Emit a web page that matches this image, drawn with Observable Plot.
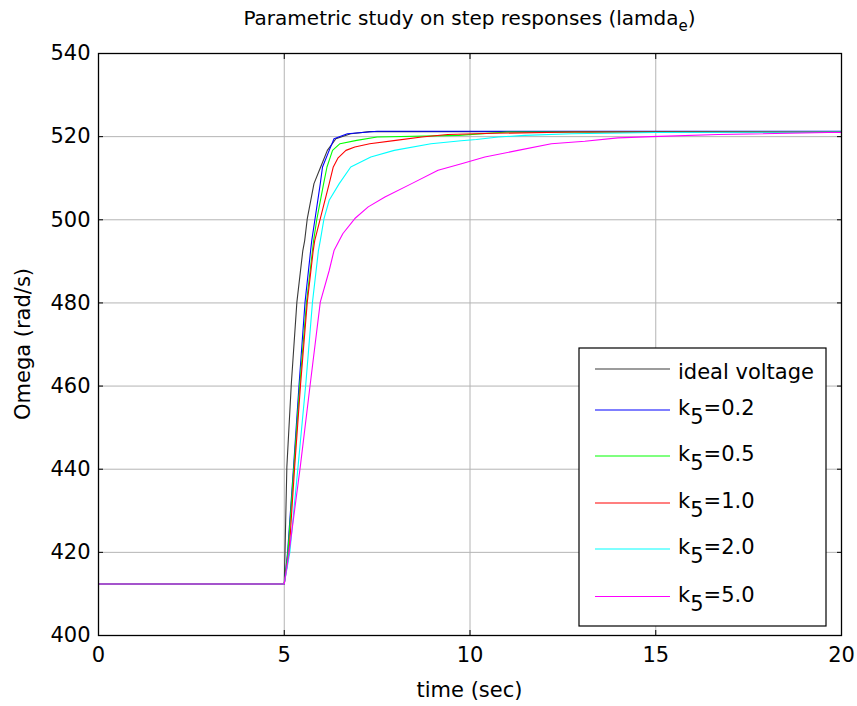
<!DOCTYPE html>
<html>
<head>
<meta charset="utf-8">
<script src="https://cdn.jsdelivr.net/npm/d3@7"></script>
<script src="https://cdn.jsdelivr.net/npm/@observablehq/plot@0.6"></script>
<style>
  html, body { margin: 0; padding: 0; background: #fff; }
  #chart { width: 857px; height: 706px; }
</style>
</head>
<body>
<div id="chart"></div>
<script>
// ---- data ----
const seriesNames = ["ideal voltage", "k5=0.2", "k5=0.5", "k5=1.0", "k5=2.0", "k5=5.0"];
const seriesColors = ["#3a3a3a", "#0000ff", "#00ff00", "#ff0000", "#00ffff", "#ff00ff"];

const tIdeal = [0, 5.0, 5.02, 5.07, 5.19, 5.34, 5.50, 5.55, 5.62, 5.80, 5.98, 6.16, 6.39, 6.79, 7.3, 20];
const yIdeal = [412.4, 412.4, 420.0, 440.5, 460.5, 480.2, 492.6, 495.0, 500.3, 508.7, 512.7, 516.7, 519.5, 520.7, 521.2, 521.2];

const tK02 = [0, 5.0, 5.09, 5.25, 5.40, 5.56, 5.71, 5.74, 5.83, 5.97, 6.03, 6.21, 6.34, 6.7, 7.5, 20];
const yK02 = [412.4, 412.4, 420.0, 440.5, 460.5, 480.2, 492.6, 495.0, 500.3, 508.7, 512.7, 516.7, 519.5, 520.7, 521.3, 521.3];

const tK05 = [0, 5.0, 5.10, 5.26, 5.42, 5.60, 5.76, 5.79, 5.88, 6.06, 6.15, 6.30, 6.5, 6.95, 7.5, 9.7, 11.0, 20];
const yK05 = [412.4, 412.4, 420.0, 440.5, 460.5, 480.2, 492.6, 495.0, 500.3, 508.7, 512.7, 516.7, 518.3, 519.1, 519.9, 520.3, 521.1, 521.1];

const tK10 = [0, 5.0, 5.13, 5.28, 5.44, 5.62, 5.78, 5.82, 5.97, 6.21, 6.32, 6.45, 6.66, 6.9, 7.3, 8.0, 8.7, 9.4, 10.66, 12.8, 20];
const yK10 = [412.4, 412.4, 420.0, 440.5, 460.5, 480.2, 492.6, 495.0, 500.3, 508.7, 512.7, 514.9, 516.7, 517.5, 518.3, 519.1, 519.9, 520.5, 520.8, 521.1, 521.1];

const tK20 = [0, 5.0, 5.15, 5.37, 5.58, 5.76, 5.92, 5.97, 6.07, 6.21, 6.48, 6.79, 7.33, 7.96, 8.95, 9.76, 10.17, 10.76, 11.47, 12.73, 14.97, 20];
const yK20 = [412.4, 412.4, 420.0, 440.5, 460.5, 480.2, 492.6, 495.0, 500.3, 504.7, 508.7, 512.7, 515.1, 516.7, 518.3, 519.0, 519.3, 519.9, 520.3, 520.7, 521.0, 521.1];

const tK50 = [0, 5.0, 5.13, 5.43, 5.70, 5.97, 6.21, 6.34, 6.48, 6.58, 6.9, 7.26, 7.71, 8.43, 9.14, 9.77, 10.4, 11.29, 12.19, 13.09, 13.98, 14.88, 16.68, 19.64, 20];
const yK50 = [412.4, 412.4, 420.0, 440.5, 460.5, 480.2, 487.8, 492.6, 495.0, 496.7, 500.3, 503.1, 505.5, 508.7, 511.9, 513.5, 515.1, 516.7, 518.3, 518.9, 519.7, 520.0, 520.5, 521.0, 521.0];

const xTicks = [0, 5, 10, 15, 20];
const yTicks = [400, 420, 440, 460, 480, 500, 520, 540];

const titleText = "Parametric study on step responses (lamda";
const titleSub = "e";
const xLabel = "time (sec)";
const yLabel = "Omega (rad/s)";

// ---- build table ----
const tArrays = [tIdeal, tK02, tK05, tK10, tK20, tK50];
const yArrays = [yIdeal, yK02, yK05, yK10, yK20, yK50];
const rows = [];
seriesNames.forEach((name, i) => {
  tArrays[i].forEach((t, j) => rows.push({series: name, t, v: yArrays[i][j]}));
});

const W = 857, H = 706;
const mL = 98, mR = 16, mT = 53, mB = 71;
const font = "'DejaVu Sans', 'Liberation Sans', Arial, sans-serif";
const gridColor = "#b4b4b4";

const plot = Plot.plot({
  width: W,
  height: H,
  marginLeft: mL,
  marginRight: mR,
  marginTop: mT,
  marginBottom: mB,
  style: {fontFamily: font, fontSize: "21px", color: "#000", background: "#fff", overflow: "visible"},
  x: {domain: [0, 20], ticks: xTicks},
  y: {domain: [400, 540], ticks: yTicks},
  color: {domain: seriesNames, range: seriesColors},
  marks: [
    Plot.ruleX(xTicks, {stroke: gridColor, strokeWidth: 1}),
    Plot.ruleY(yTicks, {stroke: gridColor, strokeWidth: 1}),
    ...seriesNames.map(name =>
      Plot.line(rows.filter(r => r.series === name), {x: "t", y: "v", stroke: "series", strokeWidth: 1.1})
    ),
    // inward ticks on all four sides
    Plot.axisX(xTicks, {anchor: "bottom", tickSize: 5, dy: -5, tickFormat: () => "", label: null}),
    Plot.axisX(xTicks, {anchor: "top", tickSize: 5, dy: 5, tickFormat: () => "", label: null}),
    Plot.axisY(yTicks, {anchor: "left", tickSize: 5, dx: 5, tickFormat: () => "", label: null}),
    Plot.axisY(yTicks, {anchor: "right", tickSize: 5, dx: -5, tickFormat: () => "", label: null}),
    // tick labels
    Plot.axisX(xTicks, {anchor: "bottom", tickSize: 0, tickPadding: 12, label: null, fontSize: 21}),
    Plot.axisY(yTicks, {anchor: "left", tickSize: 0, tickPadding: 8, label: null, fontSize: 21}),
    Plot.frame({stroke: "#000", strokeWidth: 1.3})
  ]
});

document.getElementById("chart").appendChild(plot);

// ---- title, axis labels, legend drawn on the same SVG ----
const svg = d3.select(plot);
const cx = mL + (W - mL - mR) / 2;

const title = svg.append("text")
  .attr("x", cx).attr("y", 25)
  .attr("text-anchor", "middle")
  .style("font-family", font).style("font-size", "20px").attr("fill", "#000");
title.append("tspan").text(titleText);
title.append("tspan").attr("dy", 6).style("font-size", "15px").text(titleSub);
title.append("tspan").attr("dy", -6).text(")");

svg.append("text")
  .attr("x", cx).attr("y", 697)
  .attr("text-anchor", "middle")
  .style("font-family", font).style("font-size", "21px").attr("fill", "#000")
  .text(xLabel);

svg.append("text")
  .attr("transform", `translate(30, ${mT + (H - mT - mB) / 2}) rotate(-90)`)
  .attr("text-anchor", "middle")
  .style("font-family", font).style("font-size", "21px").attr("fill", "#000")
  .text(yLabel);

// legend box
const lg = svg.append("g").attr("text-anchor", "start");
const lx0 = 579, ly0 = 348, lx1 = 826, ly1 = 626;
lg.append("rect")
  .attr("x", lx0).attr("y", ly0).attr("width", lx1 - lx0).attr("height", ly1 - ly0)
  .attr("fill", "#fff").attr("stroke", "#000").attr("stroke-width", 1.2);
const entryY = [369, 410, 456, 503, 549, 596.5];
seriesNames.forEach((name, i) => {
  const y = entryY[i];
  lg.append("line")
    .attr("x1", 595).attr("x2", 670).attr("y1", y).attr("y2", y)
    .attr("stroke", seriesColors[i]).attr("stroke-width", 1.1);
  const t = lg.append("text")
    .attr("x", 678)
    .attr("text-anchor", "start")
    .style("font-family", font).style("font-size", "21px").attr("fill", "#000");
  if (name.startsWith("k5")) {
    t.attr("y", y + 5);
    t.append("tspan").text("k");
    t.append("tspan").attr("dy", 9).text("5");
    t.append("tspan").attr("dy", -9).text(name.slice(2));
  } else {
    t.attr("y", y + 10);
    t.text(name);
  }
});
</script>
</body>
</html>
